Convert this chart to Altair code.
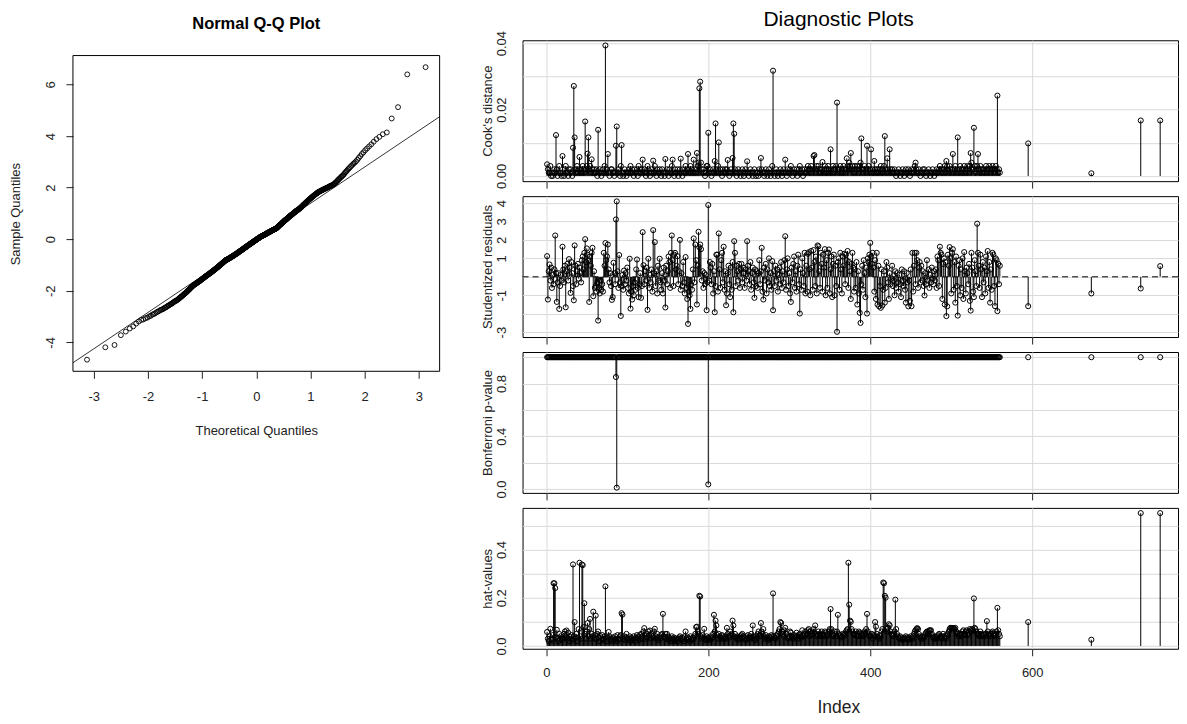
import altair as alt
import pandas as pd

FONT = "Liberation Sans"

# ---------------- Normal Q-Q plot: sorted sample quantiles ----------------
qq_sample_sorted = [
    -4.67, -4.19, -4.10, -3.72, -3.58, -3.46, -3.38, -3.27, -3.19,
    -3.13, -3.11, -3.06, -3.04, -2.99, -2.97, -2.92, -2.90, -2.87, -2.83, -2.81, -2.78, -2.75,
    -2.73, -2.72, -2.69, -2.66, -2.65, -2.62, -2.60, -2.57, -2.56, -2.53, -2.51, -2.50, -2.47,
    -2.45, -2.42, -2.41, -2.39, -2.38, -2.36,
    -2.34, -2.32, -2.29, -2.28, -2.25, -2.23, -2.22, -2.19, -2.17, -2.16, -2.13, -2.11, -2.10,
    -2.07, -2.05, -2.04, -2.01, -1.99, -1.98, -1.95, -1.93, -1.92, -1.89, -1.87, -1.86, -1.84,
    -1.82, -1.80, -1.79, -1.77,
    -1.76, -1.75, -1.74, -1.72, -1.71, -1.70, -1.69, -1.68, -1.66, -1.65,
    -1.64, -1.63, -1.62, -1.61, -1.59, -1.58, -1.57, -1.56, -1.55, -1.53,
    -1.52, -1.51, -1.50, -1.49, -1.48, -1.46, -1.45, -1.44, -1.43, -1.42,
    -1.41, -1.40, -1.39, -1.38, -1.37, -1.36, -1.35, -1.34, -1.33, -1.32, -1.31,
    -1.30, -1.29, -1.28, -1.27, -1.26, -1.25, -1.24, -1.23, -1.22, -1.21,
    -1.20, -1.19, -1.18, -1.17, -1.16, -1.15, -1.14, -1.13, -1.12, -1.11,
    -1.10, -1.09, -1.08, -1.07, -1.06, -1.05, -1.04, -1.03, -1.02, -1.01,
    -1.00, -0.99, -0.98, -0.97, -0.96, -0.95, -0.94, -0.93, -0.92, -0.91,
    -0.90, -0.89, -0.88, -0.87, -0.86, -0.85, -0.84, -0.83, -0.82, -0.81,
    -0.81, -0.80, -0.80, -0.79, -0.79,
    -0.78, -0.78, -0.77, -0.76, -0.76, -0.75, -0.74, -0.74, -0.73, -0.72,
    -0.72, -0.71, -0.71, -0.70, -0.69, -0.69, -0.68, -0.67, -0.67, -0.66,
    -0.65, -0.65, -0.64, -0.63, -0.63, -0.62, -0.61, -0.61, -0.60, -0.59,
    -0.59, -0.58, -0.57, -0.57, -0.56, -0.55, -0.55, -0.54, -0.53, -0.53,
    -0.52, -0.51, -0.50, -0.50, -0.49, -0.48, -0.48, -0.47, -0.46, -0.46,
    -0.45, -0.44, -0.44, -0.43, -0.42, -0.42, -0.41, -0.40, -0.40, -0.39,
    -0.38, -0.37, -0.37, -0.36, -0.35, -0.35, -0.34, -0.33, -0.33, -0.32,
    -0.31, -0.31, -0.30, -0.29, -0.29, -0.28, -0.27,
    -0.26, -0.26, -0.25, -0.24, -0.24, -0.23, -0.22, -0.22, -0.21, -0.20,
    -0.20, -0.19, -0.18, -0.18, -0.17, -0.16, -0.16, -0.15, -0.15, -0.14,
    -0.13, -0.13, -0.12, -0.11, -0.11, -0.10, -0.09, -0.09, -0.08, -0.07,
    -0.07, -0.06, -0.05, -0.05, -0.04, -0.04, -0.03, -0.02, -0.02, -0.01,
    0.00, 0.00, 0.01, 0.02, 0.02, 0.03, 0.04, 0.04, 0.05, 0.05,
    0.06, 0.07, 0.07, 0.08,
    0.09, 0.09, 0.10, 0.10, 0.11, 0.11, 0.12, 0.12, 0.13, 0.13,
    0.14, 0.14, 0.15, 0.15, 0.16, 0.16, 0.17, 0.17, 0.18, 0.18,
    0.19, 0.19, 0.20, 0.20, 0.21, 0.22, 0.22, 0.23, 0.23, 0.24,
    0.24, 0.25, 0.25, 0.26, 0.26, 0.27, 0.27, 0.28, 0.28, 0.29,
    0.29, 0.30, 0.30, 0.31, 0.31, 0.32, 0.33, 0.33, 0.34, 0.34,
    0.35, 0.35, 0.36, 0.36, 0.37, 0.37, 0.38, 0.38, 0.39, 0.39,
    0.40, 0.40, 0.41, 0.41, 0.42, 0.42, 0.43, 0.44,
    0.45, 0.46, 0.47, 0.48, 0.49, 0.50, 0.51, 0.52, 0.53, 0.54,
    0.55, 0.56, 0.57, 0.57, 0.58, 0.59, 0.60, 0.61, 0.62, 0.63,
    0.64, 0.65, 0.66, 0.67, 0.68, 0.69, 0.70, 0.71, 0.72, 0.73,
    0.74, 0.75, 0.75, 0.76, 0.77, 0.78, 0.79, 0.80, 0.81, 0.82,
    0.83, 0.84, 0.85, 0.86, 0.87, 0.88, 0.89, 0.90, 0.91, 0.92,
    0.93, 0.93, 0.94, 0.95, 0.96, 0.97, 0.98, 0.99, 1.00, 1.01,
    1.02, 1.03, 1.04, 1.05, 1.06, 1.07, 1.08, 1.09, 1.10, 1.11,
    1.12, 1.12, 1.13, 1.14, 1.15, 1.16, 1.17, 1.18, 1.19, 1.20, 1.21,
    1.22, 1.23, 1.25, 1.26, 1.27, 1.29, 1.30, 1.31, 1.33, 1.34,
    1.35, 1.37, 1.38, 1.39, 1.41, 1.42, 1.43, 1.45, 1.46, 1.47,
    1.49, 1.50, 1.51, 1.53, 1.54, 1.55, 1.57, 1.58, 1.59, 1.61,
    1.62, 1.63, 1.65, 1.66, 1.67, 1.69, 1.70, 1.71, 1.73, 1.74,
    1.75, 1.77, 1.78, 1.79, 1.81, 1.82, 1.83, 1.84, 1.85, 1.86,
    1.87, 1.88, 1.89, 1.90, 1.91, 1.92, 1.93, 1.94, 1.95, 1.96,
    1.97, 1.98, 1.99, 2.00, 2.01, 2.02, 2.04, 2.05, 2.06, 2.07,
    2.08, 2.10, 2.11, 2.12,
    2.14, 2.17, 2.19, 2.22, 2.25, 2.28, 2.31, 2.34, 2.37, 2.40, 2.43, 2.46, 2.49,
    2.53, 2.58, 2.62, 2.66, 2.71, 2.75, 2.79, 2.84, 2.88, 2.93, 2.97, 3.02,
    3.08, 3.15, 3.22, 3.30, 3.37, 3.45, 3.52, 3.60,
    3.68, 3.78, 3.88, 3.97, 4.07,
    4.14, 4.68, 5.12, 6.39, 6.67,
]
# reference line (qqline) read at the two frame edges
qq_line_theoretical = [-3.385, 3.385]
qq_line_sample = [-4.79, 4.75]

# ---------------- Diagnostic index plots (observations 1..560, then 4 isolated ones) ----------------
stud_resid = [
    1.12, -1.23, 0.3, 0.67, -0.2, 0.5, -0.6, 0.1, -0.4, 0.4, 2.24, 0.2, -1.36, -0.3, 0.2, -1.74, -0.5, 0.1, -0.2, 1.63,
    0.4, -0.3, 0.6, -1.65, 0.3, 0.7, -0.2, 0.96, 0.5, -0.87, 0.8, 0.2, -0.5, -1.27, 1.70, 0.6, -0.4, 0.3, 0.7, -0.1,
    0.5, 0.2, -0.3, 0.9, 1.1, 0.4, 1.3, 2.04, 0.8, 1.54, 1.2, 0.9, -1.36, 1.1, 0.6, 1.3, 1.57, -1.05, 0.3, -0.6,
    -0.5, -0.8, -0.3, -2.37, -0.6, -0.9, -0.2, -0.7, -0.4, -0.8, 1.30, 0.6, 1.83, 0.9, 1.1, 1.75, 0.4, -0.3, 0.2, -0.5,
    -1.25, -1.1, 0.76, 0.2, -0.4, 3.11, 4.09, 0.3, -0.6, 1.18, -0.3, -2.12, -0.5, 0.1, -0.7, 0.34, -0.4, 0.2, -0.2, 0.5,
    -0.6, -0.9, 0.98, -1.72, -0.8, -1.23, -0.5, -1.0, -0.3, -0.7, 0.4, 0.94, -0.6, -1.1, -0.4, 0.2, -1.14, -0.5, 2.42, 0.63,
    -0.4, 0.3, -0.2, 0.5, -1.79, 0.98, -0.6, 0.1, -0.3, 0.4, -0.8, 2.53, 0.2, 1.88, -0.5, 0.3, -0.9, 0.6, -0.2, 0.98,
    -0.3, -0.7, 0.2, -0.9, 0.5, -0.2, -1.66, 0.6, -0.4, 0.3, 1.1, 0.8, -0.6, 1.3, 2.24, 0.9, -0.5, 1.2, 1.30, 0.4,
    0.6, 1.12, -0.4, 0.3, 2.00, -0.7, 0.2, -0.5, 0.8, -0.3, -0.9, 1.07, -0.6, -1.2, -2.55, -0.8, -1.0, -1.74, -0.4, -0.7,
    0.4, 2.08, -0.3, 1.75, 0.9, -1.50, 0.6, 2.44, 1.6, 1.75, 1.5, -0.2, 0.3, -0.6, 0.2, -0.4, 0.1, -1.81, -0.3, 3.89,
    -0.2, 0.8, 0.5, -0.4, 0.7, -0.9, 0.3, -1.92, -0.5, 1.2, 1.20, -0.8, 2.35, 0.4, -0.6, 0.9, 1.3, -0.3, 1.63, -0.7,
    0.3, -1.54, -0.9, 0.2, 0.6, -0.4, -1.1, 0.5, -0.7, 0.8, -1.92, 1.93, 1.30, -0.5, 0.6, 0.3, -0.2, 0.7, -0.6, 0.4,
    0.7, -0.3, 0.5, 0.2, -0.6, 0.4, -0.2, 1.93, 0.6, 0.3, -0.4, 0.8, -0.7, 0.2, 0.5, -0.3, -1.14, 0.4, -0.5, 0.3,
    -0.6, 0.2, 0.9, -0.4, 0.3, 1.57, -0.8, -1.23, 0.5, -0.2, 0.7, -0.9, 0.4, -0.3, 1.0, -0.5, 0.2, -0.7, 0.85, -1.81,
    0.3, -0.5, 0.6, -0.2, 0.4, -0.8, 0.1, 0.5, -0.4, 0.8, -0.6, 0.3, -0.3, 0.9, 2.20, -0.7, 0.4, 1.0, -0.5, 0.2,
    -0.9, -1.36, 0.5, -0.3, 0.7, 1.1, -0.6, 0.3, -0.8, 0.6, 1.2, -0.4, -1.99, 0.4, -0.7, 1.0, 0.2, -0.5, 1.3, -0.9,
    0.6, -0.8, 1.25, 1.33, 0.4, -1.0, 1.4, 0.5, -0.7, 1.45, 0.8, -0.5, 1.1, -0.9, 1.70, 1.65, 0.3, -0.6, 1.3, 0.7,
    -0.8, 1.2, 0.5, 1.5, -1.0, 0.9, -0.6, 1.3, 1.48, -0.9, 0.4, 1.1, -1.1, 0.7, 1.2, -1.0, 0.6, -0.5, -2.98, 0.8,
    1.0, -0.7, 1.3, 0.4, -0.9, 1.1, 0.6, 1.25, -0.4, 1.2, 0.9, 1.4, -0.6, 0.8, 0.3, -1.2, 0.7, 1.30, 0.5, -0.8,
    0.4, -0.6, 0.8, -1.5, 0.3, -0.9, -1.95, -2.50, -0.4, 0.6, -0.7, 0.9, 0.2, -1.1, 0.5, -1.99, 1.0, 0.8, 1.2, 1.84,
    1.1, 0.7, 1.3, 0.5, -0.8, 0.9, -1.2, 1.30, -1.5, 0.6, -1.6, -0.5, -1.68, 0.4, -1.55, -0.7, 0.3, -1.4, -0.6, 0.8,
    0.5, -0.3, -1.2, 0.2, -0.4, -0.1, 0.6, -0.5, -0.2, -1.0, 0.3, -0.6, 0.2, -0.3, -0.8, 0.1, -0.4, -1.1, 0.4, -0.2,
    -0.5, 0.3, -0.7, -1.4, 0.2, -0.3, -1.6, -0.2, -1.3, 0.4, -1.59, 1.30, -0.8, 0.6, 1.3, -0.4, 1.30, 0.9, -0.6, 0.5,
    0.8, -0.3, 0.6, -0.2, 0.3, -0.5, -1.01, 0.2, -0.4, 0.9, -0.2, 0.4, -0.6, 0.1, -0.3, 0.5, -0.1, -0.4, 0.3, -0.2,
    0.4, -0.6, 1.1, 0.9, -0.5, 1.63, 1.3, 1.2, -1.2, 0.7, 1.0, -1.5, 0.8, -2.13, -1.6, 1.2, 0.6, 1.61, 1.0, -0.9,
    1.3, 1.5, -0.7, 0.8, -1.4, 1.1, -0.5, -2.10, 0.6, 0.9, -1.0, 0.4, -0.6, 1.0, -1.2, 1.34, 0.3, -0.9, 0.5, 0.2,
    -0.4, 0.7, -1.3, -1.83, 1.30, 0.5, -0.8, -1.10, 0.9, 0.3, -0.5, 2.88, 1.3, 0.6, -0.6, 1.2, 0.4, -1.1, 0.8, -0.3,
    0.5, -0.9, 1.1, 0.3, 1.4, -0.6, 0.8, -1.40, 0.4, -0.7, 1.30, 1.2, -0.5, -1.59, 1.0, 0.9, -1.86, 0.71, -0.4, 0.6,
]
cooks_d = [
    0.0035, 0.002, 0.001, 0.001, 0.003, 0.0, 0.001, 0.0, 0.001, 0.002, 0.001, 0.0123, 0.002, 0.0, 0.001, 0.003, 0.001, 0.001, 0.0, 0.006,
    0.001, 0.0, 0.002, 0.003, 0.001, 0.001, 0.0, 0.002, 0.001, 0.002, 0.001, 0.0, 0.0085, 0.0271, 0.0116, 0.002, 0.001, 0.003, 0.001, 0.002,
    0.0057, 0.001, 0.002, 0.001, 0.003, 0.002, 0.001, 0.0164, 0.002, 0.003, 0.0067, 0.0116, 0.002, 0.003, 0.001, 0.005, 0.002, 0.001, 0.002, 0.001,
    0.001, 0.002, 0.0, 0.0139, 0.001, 0.002, 0.001, 0.0, 0.001, 0.002, 0.001, 0.003, 0.0393, 0.001, 0.002, 0.0066, 0.001, 0.0, 0.001, 0.002,
    0.002, 0.001, 0.001, 0.0, 0.001, 0.0091, 0.0149, 0.001, 0.002, 0.001, 0.0, 0.003, 0.0093, 0.001, 0.0, 0.001, 0.002, 0.001, 0.0, 0.001,
    0.001, 0.002, 0.001, 0.003, 0.001, 0.002, 0.001, 0.0, 0.002, 0.001, 0.001, 0.002, 0.0, 0.003, 0.001, 0.002, 0.001, 0.002, 0.0049, 0.001,
    0.002, 0.001, 0.0, 0.001, 0.003, 0.002, 0.001, 0.0, 0.001, 0.002, 0.001, 0.0046, 0.001, 0.003, 0.001, 0.0, 0.002, 0.001, 0.001, 0.002,
    0.001, 0.0, 0.002, 0.001, 0.001, 0.0, 0.0051, 0.001, 0.002, 0.001, 0.0, 0.002, 0.001, 0.001, 0.003, 0.0049, 0.001, 0.0, 0.002, 0.001,
    0.001, 0.002, 0.0, 0.001, 0.002, 0.0052, 0.001, 0.0, 0.002, 0.001, 0.001, 0.003, 0.001, 0.002, 0.0066, 0.002, 0.001, 0.003, 0.001, 0.002,
    0.001, 0.0049, 0.001, 0.002, 0.001, 0.0069, 0.003, 0.004, 0.0264, 0.0284, 0.004, 0.002, 0.001, 0.002, 0.001, 0.0, 0.001, 0.003, 0.003, 0.013,
    0.001, 0.002, 0.001, 0.0, 0.001, 0.002, 0.001, 0.0045, 0.0158, 0.002, 0.001, 0.003, 0.0101, 0.001, 0.002, 0.001, 0.0, 0.002, 0.001, 0.001,
    0.002, 0.001, 0.002, 0.0048, 0.001, 0.0, 0.001, 0.002, 0.001, 0.0054, 0.0158, 0.0127, 0.002, 0.001, 0.0, 0.001, 0.002, 0.001, 0.001, 0.0,
    0.001, 0.002, 0.001, 0.0, 0.001, 0.002, 0.001, 0.0044, 0.001, 0.0, 0.001, 0.002, 0.001, 0.001, 0.0, 0.001, 0.002, 0.001, 0.0, 0.001,
    0.001, 0.0, 0.002, 0.001, 0.0054, 0.002, 0.001, 0.001, 0.0, 0.001, 0.002, 0.001, 0.0, 0.001, 0.002, 0.001, 0.0, 0.001, 0.003, 0.0317,
    0.001, 0.0, 0.001, 0.002, 0.001, 0.0, 0.001, 0.001, 0.002, 0.001, 0.0, 0.001, 0.002, 0.001, 0.0049, 0.001, 0.0, 0.002, 0.001, 0.001,
    0.002, 0.003, 0.001, 0.0, 0.001, 0.002, 0.001, 0.001, 0.002, 0.0, 0.001, 0.002, 0.003, 0.001, 0.001, 0.002, 0.0, 0.001, 0.002, 0.001,
    0.001, 0.002, 0.003, 0.002, 0.001, 0.002, 0.003, 0.001, 0.002, 0.006, 0.0063, 0.002, 0.001, 0.003, 0.002, 0.003, 0.001, 0.002, 0.001, 0.002,
    0.0042, 0.001, 0.002, 0.003, 0.001, 0.002, 0.001, 0.003, 0.002, 0.001, 0.008, 0.002, 0.001, 0.003, 0.002, 0.001, 0.002, 0.003, 0.0221, 0.002,
    0.001, 0.002, 0.003, 0.001, 0.002, 0.001, 0.003, 0.002, 0.001, 0.002, 0.0053, 0.003, 0.002, 0.004, 0.003, 0.0069, 0.002, 0.003, 0.001, 0.002,
    0.003, 0.001, 0.002, 0.003, 0.002, 0.001, 0.003, 0.004, 0.0113, 0.002, 0.001, 0.002, 0.003, 0.002, 0.001, 0.0091, 0.002, 0.003, 0.001, 0.002,
    0.008, 0.001, 0.002, 0.001, 0.0045, 0.002, 0.001, 0.002, 0.001, 0.002, 0.001, 0.002, 0.003, 0.001, 0.002, 0.001, 0.003, 0.012, 0.002, 0.001,
    0.0053, 0.002, 0.001, 0.008, 0.002, 0.001, 0.002, 0.001, 0.001, 0.002, 0.001, 0.0, 0.001, 0.001, 0.002, 0.001, 0.0, 0.001, 0.001, 0.002,
    0.001, 0.0, 0.001, 0.002, 0.001, 0.001, 0.002, 0.001, 0.0, 0.001, 0.002, 0.001, 0.001, 0.002, 0.003, 0.004, 0.002, 0.001, 0.001, 0.002,
    0.001, 0.0, 0.001, 0.001, 0.002, 0.001, 0.002, 0.001, 0.0, 0.001, 0.001, 0.002, 0.001, 0.0, 0.001, 0.001, 0.002, 0.001, 0.0, 0.001,
    0.001, 0.002, 0.001, 0.001, 0.002, 0.003, 0.002, 0.001, 0.002, 0.001, 0.002, 0.003, 0.001, 0.0045, 0.003, 0.002, 0.001, 0.003, 0.002, 0.001,
    0.002, 0.0066, 0.001, 0.002, 0.003, 0.001, 0.002, 0.0116, 0.001, 0.002, 0.003, 0.001, 0.002, 0.001, 0.002, 0.003, 0.001, 0.002, 0.001, 0.003,
    0.002, 0.001, 0.003, 0.0069, 0.004, 0.002, 0.002, 0.0145, 0.003, 0.001, 0.002, 0.003, 0.0066, 0.002, 0.001, 0.003, 0.002, 0.001, 0.002, 0.001,
    0.002, 0.001, 0.003, 0.002, 0.001, 0.002, 0.003, 0.002, 0.001, 0.002, 0.003, 0.002, 0.001, 0.002, 0.003, 0.002, 0.0242, 0.001, 0.002, 0.001,
]
hat_values = [
    0.058, 0.03, 0.02, 0.04, 0.071, 0.03, 0.025, 0.045, 0.26, 0.26, 0.24, 0.035, 0.067, 0.03, 0.02, 0.05, 0.03, 0.04, 0.025, 0.035,
    0.03, 0.05, 0.06, 0.04, 0.064, 0.03, 0.055, 0.02, 0.04, 0.03, 0.045, 0.025, 0.338, 0.04, 0.099, 0.03, 0.05, 0.02, 0.035, 0.07,
    0.345, 0.04, 0.03, 0.338, 0.335, 0.078, 0.177, 0.05, 0.03, 0.06, 0.095, 0.04, 0.07, 0.112, 0.03, 0.05, 0.04, 0.142, 0.03, 0.045,
    0.126, 0.03, 0.05, 0.06, 0.035, 0.02, 0.04, 0.03, 0.045, 0.025, 0.03, 0.04, 0.247, 0.03, 0.02, 0.035, 0.058, 0.04, 0.025, 0.03,
    0.02, 0.035, 0.03, 0.025, 0.04, 0.03, 0.02, 0.045, 0.03, 0.025, 0.04, 0.045, 0.136, 0.13, 0.03, 0.04, 0.025, 0.035, 0.05, 0.03,
    0.025, 0.03, 0.04, 0.02, 0.035, 0.03, 0.025, 0.04, 0.03, 0.02, 0.035, 0.045, 0.03, 0.04, 0.025, 0.045, 0.05, 0.03, 0.04, 0.06,
    0.074, 0.04, 0.03, 0.05, 0.035, 0.06, 0.045, 0.064, 0.03, 0.05, 0.04, 0.035, 0.06, 0.071, 0.04, 0.03, 0.05, 0.025, 0.035, 0.04,
    0.03, 0.045, 0.05, 0.133, 0.04, 0.035, 0.05, 0.03, 0.05, 0.04, 0.025, 0.035, 0.03, 0.02, 0.04, 0.03, 0.025, 0.035, 0.02, 0.03,
    0.025, 0.03, 0.02, 0.035, 0.04, 0.03, 0.025, 0.035, 0.03, 0.02, 0.04, 0.06, 0.03, 0.025, 0.035, 0.03, 0.02, 0.04, 0.03, 0.025,
    0.035, 0.03, 0.04, 0.05, 0.078, 0.08, 0.06, 0.05, 0.208, 0.205, 0.04, 0.03, 0.045, 0.035, 0.071, 0.03, 0.025, 0.04, 0.03, 0.035,
    0.03, 0.025, 0.04, 0.03, 0.035, 0.05, 0.129, 0.06, 0.105, 0.085, 0.045, 0.03, 0.05, 0.04, 0.035, 0.03, 0.045, 0.04, 0.03, 0.035,
    0.04, 0.03, 0.075, 0.05, 0.04, 0.035, 0.06, 0.045, 0.05, 0.105, 0.085, 0.04, 0.05, 0.035, 0.03, 0.04, 0.025, 0.035, 0.03, 0.04,
    0.045, 0.05, 0.04, 0.03, 0.035, 0.025, 0.04, 0.03, 0.045, 0.035, 0.03, 0.04, 0.05, 0.035, 0.085, 0.04, 0.03, 0.025, 0.04, 0.035,
    0.05, 0.06, 0.045, 0.04, 0.095, 0.06, 0.05, 0.07, 0.04, 0.03, 0.045, 0.035, 0.03, 0.025, 0.04, 0.035, 0.03, 0.045, 0.04, 0.218,
    0.04, 0.035, 0.03, 0.045, 0.04, 0.05, 0.06, 0.07, 0.099, 0.095, 0.06, 0.05, 0.04, 0.065, 0.075, 0.05, 0.04, 0.035, 0.03, 0.04,
    0.06, 0.055, 0.04, 0.035, 0.03, 0.045, 0.04, 0.035, 0.055, 0.04, 0.03, 0.045, 0.05, 0.04, 0.035, 0.065, 0.045, 0.04, 0.05, 0.06,
    0.045, 0.05, 0.065, 0.07, 0.04, 0.06, 0.05, 0.045, 0.06, 0.07, 0.055, 0.085, 0.05, 0.04, 0.045, 0.06, 0.05, 0.045, 0.04, 0.06,
    0.05, 0.045, 0.04, 0.06, 0.055, 0.04, 0.05, 0.045, 0.06, 0.07, 0.153, 0.07, 0.05, 0.04, 0.045, 0.06, 0.05, 0.04, 0.06, 0.129,
    0.05, 0.04, 0.045, 0.035, 0.04, 0.05, 0.045, 0.04, 0.05, 0.06, 0.065, 0.07, 0.345, 0.171, 0.105, 0.1, 0.07, 0.06, 0.05, 0.045,
    0.05, 0.06, 0.045, 0.04, 0.05, 0.06, 0.055, 0.04, 0.05, 0.045, 0.04, 0.05, 0.06, 0.055, 0.07, 0.133, 0.06, 0.05, 0.04, 0.045,
    0.04, 0.05, 0.03, 0.045, 0.04, 0.099, 0.08, 0.05, 0.04, 0.035, 0.03, 0.045, 0.04, 0.06, 0.07, 0.263, 0.26, 0.208, 0.2, 0.07,
    0.06, 0.075, 0.09, 0.085, 0.06, 0.05, 0.045, 0.04, 0.05, 0.06, 0.192, 0.07, 0.05, 0.04, 0.035, 0.03, 0.04, 0.035, 0.03, 0.025,
    0.03, 0.035, 0.03, 0.04, 0.035, 0.03, 0.025, 0.035, 0.03, 0.04, 0.035, 0.03, 0.04, 0.05, 0.06, 0.065, 0.07, 0.074, 0.07, 0.05,
    0.04, 0.035, 0.03, 0.04, 0.035, 0.03, 0.04, 0.05, 0.055, 0.06, 0.05, 0.06, 0.065, 0.064, 0.065, 0.05, 0.04, 0.035, 0.03, 0.04,
    0.035, 0.03, 0.04, 0.045, 0.05, 0.04, 0.035, 0.03, 0.04, 0.05, 0.04, 0.035, 0.03, 0.04, 0.05, 0.045, 0.06, 0.07, 0.075, 0.074,
    0.075, 0.074, 0.074, 0.07, 0.075, 0.06, 0.05, 0.055, 0.04, 0.05, 0.045, 0.04, 0.05, 0.06, 0.065, 0.05, 0.045, 0.06, 0.065, 0.05,
    0.045, 0.06, 0.07, 0.065, 0.06, 0.07, 0.065, 0.197, 0.075, 0.07, 0.06, 0.05, 0.045, 0.05, 0.04, 0.06, 0.05, 0.045, 0.04, 0.05,
    0.045, 0.04, 0.05, 0.103, 0.06, 0.05, 0.045, 0.04, 0.05, 0.055, 0.06, 0.05, 0.045, 0.04, 0.05, 0.06, 0.158, 0.065, 0.05, 0.04,
]
# the four isolated observations on the right
tail_index = [595, 673, 734, 758]
tail_resid = [-1.59, -0.90, -0.63, 0.58]
tail_cooks = [0.0098, 0.0008, 0.0167, 0.0167]
tail_hat = [0.099, 0.026, 0.551, 0.551]
# Bonferroni p-values below 1 (all other observations sit at 1)
bonf_index = [86, 87, 200]
bonf_pvalue = [0.85, 0.01, 0.035]
bonf_cap = 1.0


def index_frame(values, tail, name):
    idx = list(range(1, len(values) + 1)) + tail_index
    return pd.DataFrame({"Index": idx, name: list(values) + list(tail)})


cook_df = index_frame(cooks_d, tail_cooks, "cook")
resid_df = index_frame(stud_resid, tail_resid, "resid")
hat_df = index_frame(hat_values, tail_hat, "hat")
bonf_map = dict(zip(bonf_index, bonf_pvalue))
bonf_df = pd.DataFrame({"Index": resid_df["Index"],
                        "bonf": [bonf_map.get(i, bonf_cap) for i in resid_df["Index"]]})

one_row = pd.DataFrame({"k": [0]})

# ---------------- Q-Q panel ----------------
QQ_W, QQ_H = 367, 331.3
QQ_TOP = 15.3  # frame top inside the view (aligns with the right column)

qx = alt.X("theoretical:Q",
           scale=alt.Scale(domain=[-3.385, 3.385], nice=False, zero=False),
           axis=alt.Axis(values=[-3, -2, -1, 0, 1, 2, 3], labelExpr="toString(datum.value)",
                         grid=False, domain=False, tickSize=7, labelPadding=18.5,
                         labelBaseline="middle", labelFlush=False,
                         title="Theoretical Quantiles", titleX=183.5, titleY=59,
                         titleAlign="center", titleBaseline="middle"))
qy = alt.Y("sample:Q",
           scale=alt.Scale(domain=[-5.12, 7.12], range=[QQ_H, QQ_TOP], nice=False, zero=False),
           axis=alt.Axis(values=[-4, -2, 0, 2, 4, 6], labelExpr="toString(datum.value)",
                         grid=False, domain=False, tickSize=7, labelAngle=270, labelAlign="center",
                         labelBaseline="middle", labelPadding=15.5, labelFlush=False,
                         title="Sample Quantiles", titleAngle=270, titleX=-57, titleY=173.5,
                         titleAlign="center", titleBaseline="middle"))

qq_points = (
    alt.Chart(pd.DataFrame({"sample": qq_sample_sorted}))
    .transform_window(rank="row_number()", sort=[alt.SortField("sample", order="ascending")])
    .transform_joinaggregate(n="count()")
    .transform_calculate(theoretical="quantileNormal((datum.rank - 0.5) / datum.n)")
    .mark_point(shape="circle", filled=False, color="black", size=24, strokeWidth=0.9, opacity=1)
    .encode(x=qx, y=qy)
)
qq_line = (
    alt.Chart(pd.DataFrame({"theoretical": qq_line_theoretical, "sample": qq_line_sample}))
    .mark_line(color="black", strokeWidth=0.8)
    .encode(x=qx, y=qy)
)
qq_frame = alt.Chart(one_row).mark_rect(fillOpacity=0, stroke="black", strokeWidth=1).encode(
    x=alt.value(0), x2=alt.value(QQ_W), y=alt.value(QQ_TOP), y2=alt.value(QQ_H))
qq_title = alt.Chart(pd.DataFrame({"t": ["Normal Q-Q Plot"]})).mark_text(
    font=FONT, fontSize=16.5, fontWeight="bold", align="center", baseline="alphabetic", color="black"
).encode(text="t:N", x=alt.value(183.5), y=alt.value(-11.4))
anchor = alt.Chart(one_row).mark_rule(opacity=0).encode(
    x=alt.value(-64), x2=alt.value(-64), y=alt.value(-31), y2=alt.value(-30))

qq = alt.layer(anchor, qq_frame, qq_line, qq_points, qq_title).properties(
    width=QQ_W, height=QQ_H, view=alt.ViewBackground(stroke="transparent"))

# ---------------- right-hand index plots ----------------
P_W, P_H = 656, 141
X_DOMAIN = [-29.3, 780.0]


def x_enc(bottom):
    kw = dict(values=[0, 200, 400, 600], grid=True, domain=False, tickSize=7, labelFlush=False)
    if bottom:
        kw.update(labels=True, labelPadding=17, labelBaseline="middle", title="Index",
                  titleX=316, titleY=58.5, titleFontSize=17.5, titleAlign="center",
                  titleBaseline="middle")
    else:
        kw.update(labels=False, title=None)
    return alt.X("Index:Q", scale=alt.Scale(domain=X_DOMAIN, nice=False, zero=False),
                 axis=alt.Axis(**kw))


def y_enc(field, title, domain, values, shown, fmt):
    cond = " || ".join(f"datum.value == {v}" for v in shown)
    axis = alt.Axis(values=values, grid=True, domain=False, ticks=False, tickSize=0,
                    labelAngle=270, labelAlign="center", labelBaseline="middle",
                    labelPadding=21, labelFlush=False, labelOverlap=False, format=fmt,
                    labelExpr=f"({cond}) ? replace(datum.label, '\u2212', '-') : ''",
                    title=title, titleAngle=270, titleX=-35.5, titleY=P_H / 2,
                    titleAlign="center", titleBaseline="middle")
    return alt.Y(f"{field}:Q", scale=alt.Scale(domain=domain, nice=False, zero=False), axis=axis)


def panel(df, yenc, base, bottom=False, before=(), after=()):
    x = x_enc(bottom)
    rules = alt.Chart(df).mark_rule(color="black", strokeWidth=1).encode(
        x=x, y=yenc, y2=alt.datum(base))
    pts = alt.Chart(df).mark_point(shape="circle", filled=False, color="black", size=26,
                                   strokeWidth=1, opacity=1).encode(x=x, y=yenc)
    return alt.layer(*before, rules, pts, *after).properties(width=P_W, height=P_H)


y_cook = y_enc("cook", "Cook's distance", [-0.00157, 0.04087],
               [0, 0.01, 0.02, 0.03, 0.04], [0, 0.02, 0.04], ".2f")
y_resid = y_enc("resid", "Studentized residuals", [-3.263, 4.373],
                [-3, -2, -1, 0, 1, 2, 3, 4], [-3, -1, 1, 2, 3, 4], "d")
y_bonf = y_enc("bonf", "Bonferroni p-value", [-0.0296, 1.0396],
               [0, 0.2, 0.4, 0.6, 0.8, 1.0], [0, 0.4, 0.8], ".1f")
y_hat = y_enc("hat", "hat-values", [-0.0116, 0.5726],
              [0, 0.1, 0.2, 0.3, 0.4, 0.5], [0, 0.2, 0.4], ".1f")

diag_title = alt.Chart(pd.DataFrame({"t": ["Diagnostic Plots"]})).mark_text(
    font=FONT, fontSize=21, align="center", baseline="alphabetic", color="black"
).encode(text="t:N", x=alt.value(316.3), y=alt.value(-14.1))

zero_line = alt.Chart(pd.DataFrame({"resid": [0.0]})).mark_rule(
    color="black", strokeDash=[6, 4], strokeWidth=1).encode(y=y_resid)

p1 = panel(cook_df, y_cook, 0, after=(diag_title,))
p2 = panel(resid_df, y_resid, 0, before=(zero_line,))
p3 = panel(bonf_df, y_bonf, 1)
p4 = panel(hat_df, y_hat, 0, bottom=True)

right = alt.vconcat(p1, p2, p3, p4, spacing=15, bounds="flush").resolve_scale(y="independent")

chart = (
    alt.hconcat(qq, right, spacing=83, bounds="flush")
    .properties(padding=0)
    .configure(font=FONT)
    .configure_view(stroke="black", strokeWidth=1)
    .configure_axis(labelFont=FONT, titleFont=FONT, labelFontSize=13, titleFontSize=13,
                    labelColor="#222222", titleColor="#222222", titleFontWeight="normal",
                    tickColor="#222222", gridColor="#d9d9d9", gridWidth=1)
)

chart.save("out.html", embed_options={"renderer": "svg", "actions": False})
